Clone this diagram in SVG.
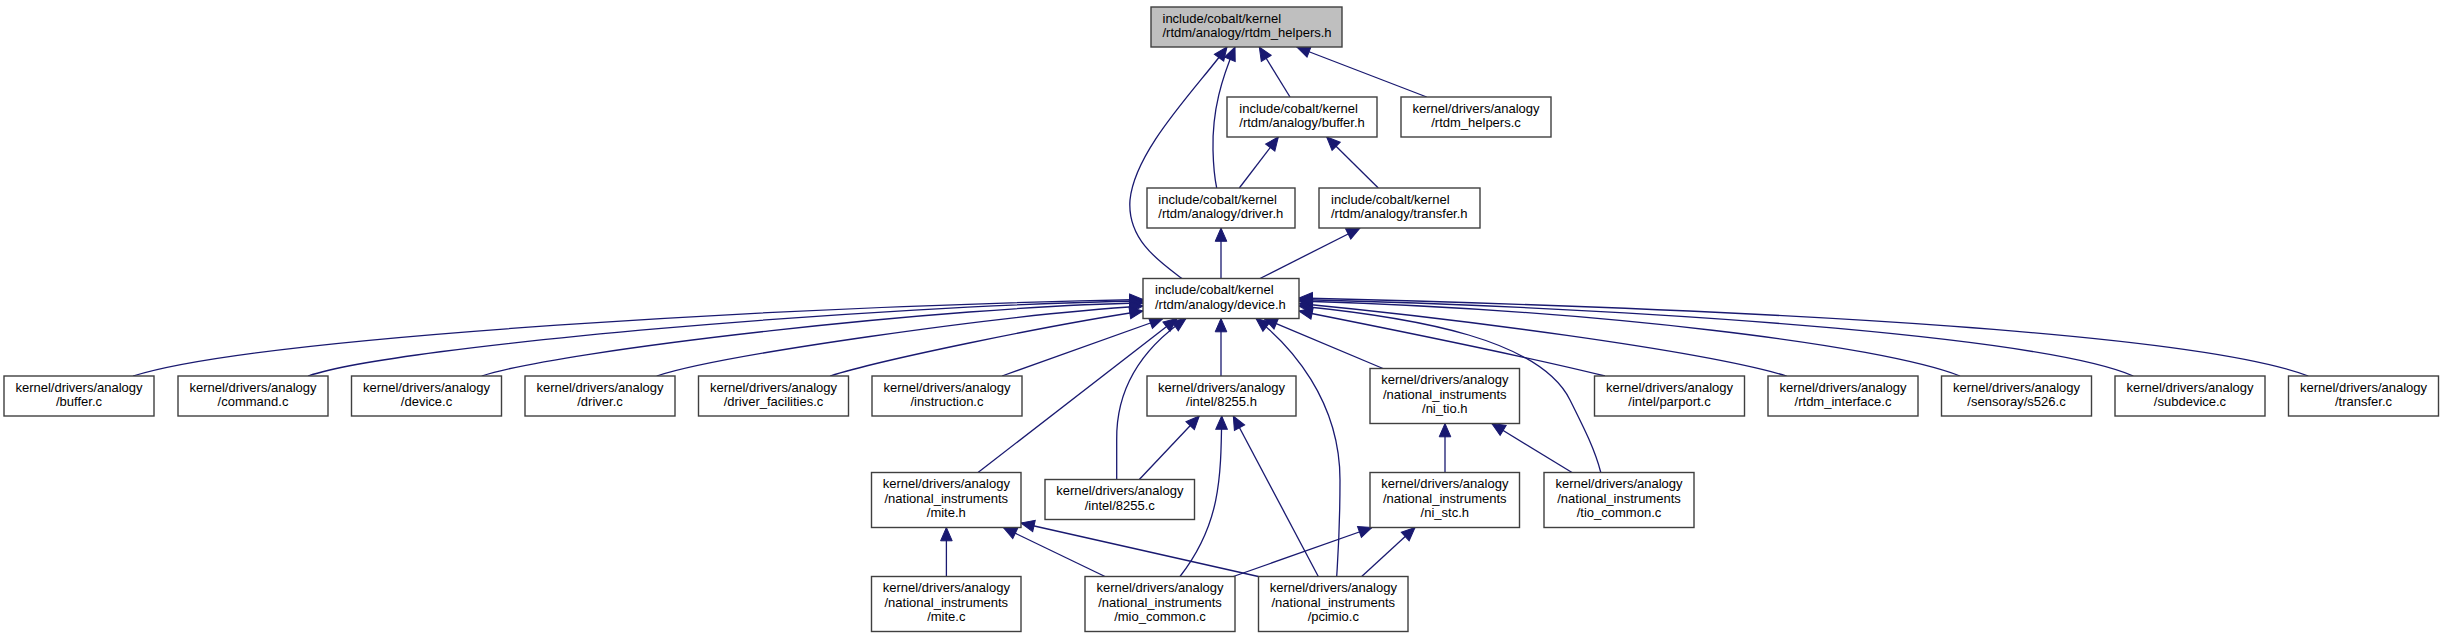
<svg xmlns="http://www.w3.org/2000/svg" width="2443" height="637" viewBox="0 0 2443 637">
<style>
.box{fill:#ffffff;stroke:#3f3f3f;stroke-width:1.4}
.root{fill:#bfbfbf;stroke:#3f3f3f;stroke-width:1.4}
.t{font-family:"Liberation Sans",Arial,sans-serif;font-size:13px;fill:#000}
.c{text-anchor:middle}
.e{fill:none;stroke:#191970;stroke-width:1.3;marker-start:url(#ah)}
</style>
<defs>
<marker id="ah" markerUnits="userSpaceOnUse" viewBox="0 -6 14 12" markerWidth="14" markerHeight="12" refX="13.3" refY="0" orient="auto-start-reverse" overflow="visible">
<polygon points="13.3,0 0,-5.8 0,5.8" fill="#191970" stroke="#191970" stroke-width="1"/>
</marker>
</defs>
<rect width="2443" height="637" fill="#ffffff"/>
<g id="edges">
<path class="e" d="M1259.3,47 L1290,97"/>
<path class="e" d="M1296.7,47 L1426.7,97"/>
<path class="e" d="M1235,47 C1222,78 1212,110 1213,150 C1213.5,170 1215,180 1216.7,188"/>
<path class="e" d="M1227,47 C1195,90 1135,150 1130,200 C1127,240 1160,262 1182,278.5"/>
<path class="e" d="M1278.3,137 L1239.3,188"/>
<path class="e" d="M1326.7,137 L1378.3,188"/>
<path class="e" d="M1221,228 L1221,278.5"/>
<path class="e" d="M1360,228 L1260,278.5"/>
<path class="e" d="M1143,299.5 C800,306 260,336 133,376"/>
<path class="e" d="M1143,301 C880,305 400,345 308,376"/>
<path class="e" d="M1143,303 C950,306 560,350 481.7,376"/>
<path class="e" d="M1143,306 C1000,315 720,355 656.7,376"/>
<path class="e" d="M1143,311 C1050,325 880,360 830,376"/>
<path class="e" d="M1163,318.5 L1002,376"/>
<path class="e" d="M1177,318.5 L978,472.5"/>
<path class="e" d="M1186,318.5 C1140,350 1116,390 1116.7,440 L1116.7,479.5"/>
<path class="e" d="M1221,318.5 L1221,376"/>
<path class="e" d="M1256,318.5 C1290,345 1340,400 1340,480 C1340,530 1338,555 1336.7,576.5"/>
<path class="e" d="M1264,318.5 L1383,368.5"/>
<path class="e" d="M1299,306 C1420,318 1540,340 1570,400 C1585,430 1595,450 1600.8,472.5"/>
<path class="e" d="M1299,311 C1400,331 1520,355 1605,376"/>
<path class="e" d="M1299,303.5 C1450,318 1700,350 1786.7,376"/>
<path class="e" d="M1299,301 C1600,310 1880,345 1960,376"/>
<path class="e" d="M1299,299.5 C1700,310 2050,340 2133.3,376"/>
<path class="e" d="M1299,298 C1800,310 2200,335 2308.3,376"/>
<path class="e" d="M1199.3,416 L1139.3,479.5"/>
<path class="e" d="M1221.7,416 C1221,480 1220,525 1180,576.5"/>
<path class="e" d="M1233.3,416 L1318.3,576.5"/>
<path class="e" d="M1445,423.5 L1445,472.5"/>
<path class="e" d="M1491.8,423.5 L1572,472.5"/>
<path class="e" d="M946.4,527.5 L946.4,576.5"/>
<path class="e" d="M1003.3,527.5 L1105,576.5"/>
<path class="e" d="M1021,523 L1258.3,576.5"/>
<path class="e" d="M1372,527.5 L1233.3,576.5"/>
<path class="e" d="M1415,527.5 L1361.7,576.5"/>
</g>
<g id="n-rtdm_helpers_h"><rect class="root" x="1151" y="7" width="191" height="40"/><text class="t" x="1162.5" y="22.5">include/cobalt/kernel</text><text class="t" x="1162.5" y="37">/rtdm/analogy/rtdm_helpers.h</text></g>
<g id="n-buffer_h"><rect class="box" x="1227" y="97" width="150" height="40"/><text class="t" x="1239.3" y="112.5">include/cobalt/kernel</text><text class="t" x="1239.3" y="127">/rtdm/analogy/buffer.h</text></g>
<g id="n-rtdm_helpers_c"><rect class="box" x="1401" y="97" width="150" height="40"/><text class="t c" x="1476" y="112.5">kernel/drivers/analogy</text><text class="t c" x="1476" y="127">/rtdm_helpers.c</text></g>
<g id="n-driver_h"><rect class="box" x="1147" y="188" width="148" height="40"/><text class="t" x="1158.3" y="203.5">include/cobalt/kernel</text><text class="t" x="1158.3" y="218">/rtdm/analogy/driver.h</text></g>
<g id="n-transfer_h"><rect class="box" x="1319" y="188" width="161" height="40"/><text class="t" x="1331" y="203.5">include/cobalt/kernel</text><text class="t" x="1331" y="218">/rtdm/analogy/transfer.h</text></g>
<g id="n-device_h"><rect class="box" x="1143" y="278.5" width="156" height="40"/><text class="t" x="1155" y="294">include/cobalt/kernel</text><text class="t" x="1155" y="308.5">/rtdm/analogy/device.h</text></g>
<g id="n-buffer_c"><rect class="box" x="4" y="376" width="150" height="40"/><text class="t c" x="79" y="391.5">kernel/drivers/analogy</text><text class="t c" x="79" y="406">/buffer.c</text></g>
<g id="n-command_c"><rect class="box" x="178" y="376" width="150" height="40"/><text class="t c" x="253" y="391.5">kernel/drivers/analogy</text><text class="t c" x="253" y="406">/command.c</text></g>
<g id="n-device_c"><rect class="box" x="351.5" y="376" width="150" height="40"/><text class="t c" x="426.5" y="391.5">kernel/drivers/analogy</text><text class="t c" x="426.5" y="406">/device.c</text></g>
<g id="n-driver_c"><rect class="box" x="525" y="376" width="150" height="40"/><text class="t c" x="600" y="391.5">kernel/drivers/analogy</text><text class="t c" x="600" y="406">/driver.c</text></g>
<g id="n-driver_facilities_c"><rect class="box" x="698.5" y="376" width="150" height="40"/><text class="t c" x="773.5" y="391.5">kernel/drivers/analogy</text><text class="t c" x="773.5" y="406">/driver_facilities.c</text></g>
<g id="n-instruction_c"><rect class="box" x="872" y="376" width="150" height="40"/><text class="t c" x="947" y="391.5">kernel/drivers/analogy</text><text class="t c" x="947" y="406">/instruction.c</text></g>
<g id="n-intel_8255_h"><rect class="box" x="1147" y="376" width="149" height="40"/><text class="t c" x="1221.5" y="391.5">kernel/drivers/analogy</text><text class="t c" x="1221.5" y="406">/intel/8255.h</text></g>
<g id="n-ni_tio_h"><rect class="box" x="1370" y="368.5" width="149.5" height="55"/><text class="t c" x="1444.8" y="384">kernel/drivers/analogy</text><text class="t c" x="1444.8" y="398.5">/national_instruments</text><text class="t c" x="1444.8" y="413">/ni_tio.h</text></g>
<g id="n-parport_c"><rect class="box" x="1594.5" y="376" width="150" height="40"/><text class="t c" x="1669.5" y="391.5">kernel/drivers/analogy</text><text class="t c" x="1669.5" y="406">/intel/parport.c</text></g>
<g id="n-rtdm_interface_c"><rect class="box" x="1768" y="376" width="150" height="40"/><text class="t c" x="1843" y="391.5">kernel/drivers/analogy</text><text class="t c" x="1843" y="406">/rtdm_interface.c</text></g>
<g id="n-s526_c"><rect class="box" x="1941.5" y="376" width="150" height="40"/><text class="t c" x="2016.5" y="391.5">kernel/drivers/analogy</text><text class="t c" x="2016.5" y="406">/sensoray/s526.c</text></g>
<g id="n-subdevice_c"><rect class="box" x="2115" y="376" width="150" height="40"/><text class="t c" x="2190" y="391.5">kernel/drivers/analogy</text><text class="t c" x="2190" y="406">/subdevice.c</text></g>
<g id="n-transfer_c"><rect class="box" x="2288.5" y="376" width="150" height="40"/><text class="t c" x="2363.5" y="391.5">kernel/drivers/analogy</text><text class="t c" x="2363.5" y="406">/transfer.c</text></g>
<g id="n-mite_h"><rect class="box" x="871.5" y="472.5" width="149.5" height="55"/><text class="t c" x="946.3" y="488">kernel/drivers/analogy</text><text class="t c" x="946.3" y="502.5">/national_instruments</text><text class="t c" x="946.3" y="517">/mite.h</text></g>
<g id="n-intel_8255_c"><rect class="box" x="1045" y="479.5" width="149.5" height="40"/><text class="t c" x="1119.8" y="495">kernel/drivers/analogy</text><text class="t c" x="1119.8" y="509.5">/intel/8255.c</text></g>
<g id="n-ni_stc_h"><rect class="box" x="1370" y="472.5" width="149.5" height="55"/><text class="t c" x="1444.8" y="488">kernel/drivers/analogy</text><text class="t c" x="1444.8" y="502.5">/national_instruments</text><text class="t c" x="1444.8" y="517">/ni_stc.h</text></g>
<g id="n-tio_common_c"><rect class="box" x="1544" y="472.5" width="150" height="55"/><text class="t c" x="1619" y="488">kernel/drivers/analogy</text><text class="t c" x="1619" y="502.5">/national_instruments</text><text class="t c" x="1619" y="517">/tio_common.c</text></g>
<g id="n-mite_c"><rect class="box" x="871.5" y="576.5" width="149.5" height="55"/><text class="t c" x="946.3" y="592">kernel/drivers/analogy</text><text class="t c" x="946.3" y="606.5">/national_instruments</text><text class="t c" x="946.3" y="621">/mite.c</text></g>
<g id="n-mio_common_c"><rect class="box" x="1085" y="576.5" width="150" height="55"/><text class="t c" x="1160" y="592">kernel/drivers/analogy</text><text class="t c" x="1160" y="606.5">/national_instruments</text><text class="t c" x="1160" y="621">/mio_common.c</text></g>
<g id="n-pcimio_c"><rect class="box" x="1258.5" y="576.5" width="149.5" height="55"/><text class="t c" x="1333.3" y="592">kernel/drivers/analogy</text><text class="t c" x="1333.3" y="606.5">/national_instruments</text><text class="t c" x="1333.3" y="621">/pcimio.c</text></g>
</svg>
